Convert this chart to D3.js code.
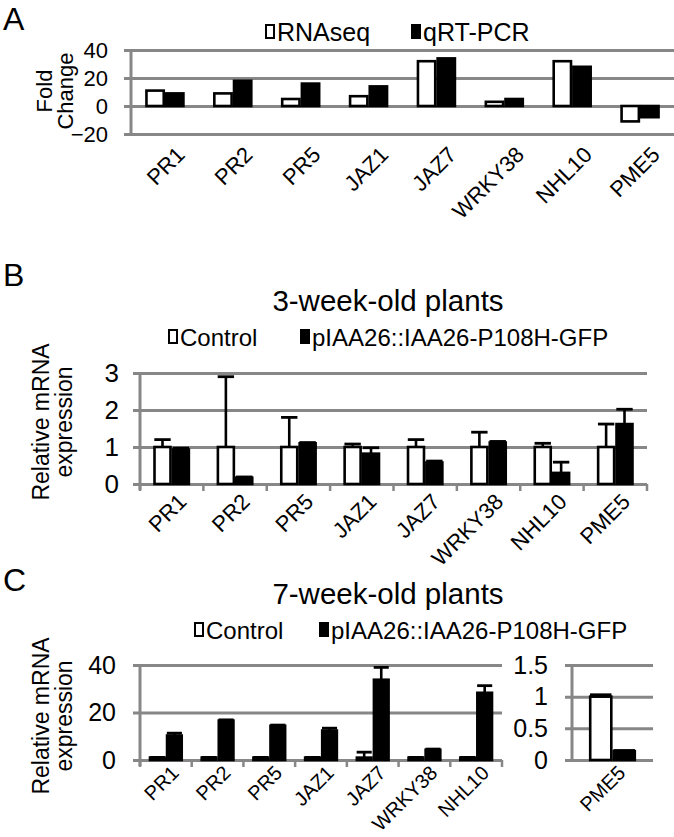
<!DOCTYPE html>
<html><head><meta charset="utf-8">
<script src="https://cdn.jsdelivr.net/npm/d3@7"></script>
<style>
body{margin:0;background:#fff}
text{font-family:"Liberation Sans",Arial,sans-serif;fill:#000}
</style>
</head><body><svg id="c" width="674" height="837"></svg>
<script>
// ---------- data ----------
const genesA = ["PR1","PR2","PR5","JAZ1","JAZ7","WRKY38","NHL10","PME5"];
const rnaseqA = [11,9,5,7,32,3,32,-11];
const qrtpcrA = [9,18,16,14,34,5,28,-8];
const ticksA = [-20,0,20,40];
const legendA = ["RNAseq","qRT-PCR"];

const genesB = ["PR1","PR2","PR5","JAZ1","JAZ7","WRKY38","NHL10","PME5"];
const controlB = [1,1,1,1,1,1,1,1];
const controlBErr = [0.2,1.9,0.8,0.08,0.2,0.4,0.1,0.62];
const mutantB = [0.93,0.17,1.1,0.82,0.58,1.12,0.3,1.62];
const mutantBErr = [0.04,0.02,0.02,0.16,0.04,0.03,0.29,0.4];
const ticksB = [0,1,2,3];
const legendBC = ["Control","pIAA26::IAA26-P108H-GFP"];

const genesC = ["PR1","PR2","PR5","JAZ1","JAZ7","WRKY38","NHL10"];
const controlC = [1,1,1,1,1,1,1];
const controlCErr = [0.1,0.1,0.1,0.1,2.3,0.1,0.1];
const mutantC = [10.3,16.6,14.4,12.4,33.8,4.3,28.3];
const mutantCErr = [1.0,0.3,0.3,1.0,5.2,0.3,3.0];
const ticksC = [0,20,40];
const genesC2 = ["PME5"];
const controlC2 = [1.0];
const controlC2Err = [0.03];
const mutantC2 = [0.14];
const mutantC2Err = [0.01];
const ticksC2 = [0,0.5,1,1.5];

// ---------- drawing ----------
const svg = d3.select("#c");
const GRID = "#878787";

function chart(o){
  const g = svg.append("g");
  const x = d3.scaleBand().domain(o.cats).range([o.x0,o.x1]).padding(0);
  const y = d3.scaleLinear().domain(o.domain).range([o.yBottom,o.yTop]);
  const ax = d3.axisLeft(y).tickValues(o.ticks).tickSize(-(o.x1-o.x0+7)).tickPadding(o.pad||14)
      .tickFormat(o.fmt||d3.format("d"));
  const ag = g.append("g").attr("transform",`translate(${o.x0-7},0)`).call(ax);
  ag.select(".domain").remove();
  ag.selectAll(".tick line").attr("stroke",GRID).attr("stroke-width",3);
  ag.selectAll(".tick text").style("font-size",o.tickFont+"px").attr("fill","#000");
  g.append("line").attr("x1",o.x0).attr("x2",o.x0)
    .attr("y1",y(o.domain[1])).attr("y2",y(o.domain[0])+(o.xTicks?6:0))
    .attr("stroke",GRID).attr("stroke-width",3);
  if(o.xTicks){
    const bounds = o.cats.map(c=>x(c)).concat([o.x1]);
    g.selectAll(".xt").data(bounds).enter().append("line")
      .attr("x1",d=>d).attr("x2",d=>d).attr("y1",y(0)).attr("y2",y(0)+7)
      .attr("stroke",GRID).attr("stroke-width",2.5);
  }
  const bw = x.bandwidth()*o.barFrac;
  const series = [{v:o.s1,e:o.e1,fill:"#fff",off:-bw},{v:o.s2,e:o.e2,fill:"#000",off:0}];
  series.forEach(s=>{
    o.cats.forEach((c,i)=>{
      const cx = x(c)+x.bandwidth()/2 + (o.shift||0);
      const v = s.v[i];
      g.append("rect").attr("x",cx+s.off+1.2).attr("width",bw-2.4)
        .attr("y",Math.min(y(v),y(0))).attr("height",Math.abs(y(v)-y(0)))
        .attr("fill",s.fill).attr("stroke","#000").attr("stroke-width",2.6);
      if(s.e){
        const e = s.e[i], mid = cx+s.off+bw/2;
        g.append("line").attr("x1",mid).attr("x2",mid).attr("y1",y(v)).attr("y2",y(v+e))
          .attr("stroke","#000").attr("stroke-width",2.6);
        g.append("line").attr("x1",mid-bw/2+1).attr("x2",mid+bw/2-1).attr("y1",y(v+e)).attr("y2",y(v+e))
          .attr("stroke","#000").attr("stroke-width",2.8);
      }
    });
  });
  const bx = d3.axisBottom(x).tickSize(0);
  const bg = g.append("g").attr("transform",`translate(0,${o.labelY})`).call(bx);
  bg.select(".domain").remove();
  bg.selectAll(".tick text").style("font-size",o.catFont+"px").attr("fill","#000")
    .attr("text-anchor","end").attr("y",0).attr("dy","0.72em")
    .attr("transform",`translate(${o.labelDx},0) rotate(-45)`);
  return {x,y};
}

function ytitle(lines,cx,cy,fs,gap){
  lines.forEach((l,i)=>{
    svg.append("text").attr("transform",`translate(${cx+i*gap},${cy}) rotate(-90)`)
      .attr("text-anchor","middle").style("font-size",fs+"px").text(l);
  });
}
function legend(items,xs,y,fs){
  items.forEach((t,i)=>{
    svg.append("rect").attr("x",xs[i]).attr("y",y-7).attr("width",8).attr("height",13)
      .attr("fill",i?"#000":"#fff").attr("stroke","#000").attr("stroke-width",2);
    svg.append("text").attr("x",xs[i]+11).attr("y",y).attr("dy","0.36em")
      .style("font-size",fs+"px").text(t);
  });
}
function letter(t,x,y){svg.append("text").attr("x",x).attr("y",y).style("font-size","32px").text(t);}

// Panel A
letter("A",3,30);
legend(legendA,[266,412],32,25);
chart({cats:genesA,s1:rnaseqA,s2:qrtpcrA,x0:131,x1:674,yTop:50,yBottom:134,domain:[-20,40],
  ticks:ticksA,tickFont:22,barFrac:0.29,labelY:145,labelDx:10,catFont:22,pad:16});
ytitle(["Fold","Change"],52,91,22,21);

// Panel B
letter("B",3,286);
svg.append("text").attr("x",388).attr("y",311).attr("text-anchor","middle").style("font-size","29.5px").text("3-week-old plants");
legend(legendBC,[169,301],337,24);
chart({cats:genesB,s1:controlB,s2:mutantB,e1:controlBErr,e2:mutantBErr,x0:140,x1:647,yTop:373,yBottom:484,
  domain:[0,3],ticks:ticksB,tickFont:26,barFrac:0.29,labelY:492,labelDx:5,catFont:22,xTicks:true,pad:14});
ytitle(["Relative mRNA","expression"],49,422,23,23);

// Panel C
letter("C",3,591);
svg.append("text").attr("x",388).attr("y",604).attr("text-anchor","middle").style("font-size","29.5px").text("7-week-old plants");
legend(legendBC,[195,320],630,24);
chart({cats:genesC,s1:controlC,s2:mutantC,e1:controlCErr,e2:mutantCErr,x0:140,x1:502,yTop:665,yBottom:760,
  domain:[0,40],ticks:ticksC,tickFont:25,barFrac:0.33,labelY:764,labelDx:4,catFont:20,xTicks:true,pad:17});
chart({cats:genesC2,s1:controlC2,s2:mutantC2,e1:controlC2Err,e2:mutantC2Err,x0:572,x1:653,yTop:665,yBottom:760,
  domain:[0,1.5],ticks:ticksC2,tickFont:25,barFrac:0.29,labelY:764,labelDx:4,catFont:20,pad:17,fmt:d=>String(d)});
ytitle(["Relative mRNA","expression"],49,716,23,23);
</script></body></html>
